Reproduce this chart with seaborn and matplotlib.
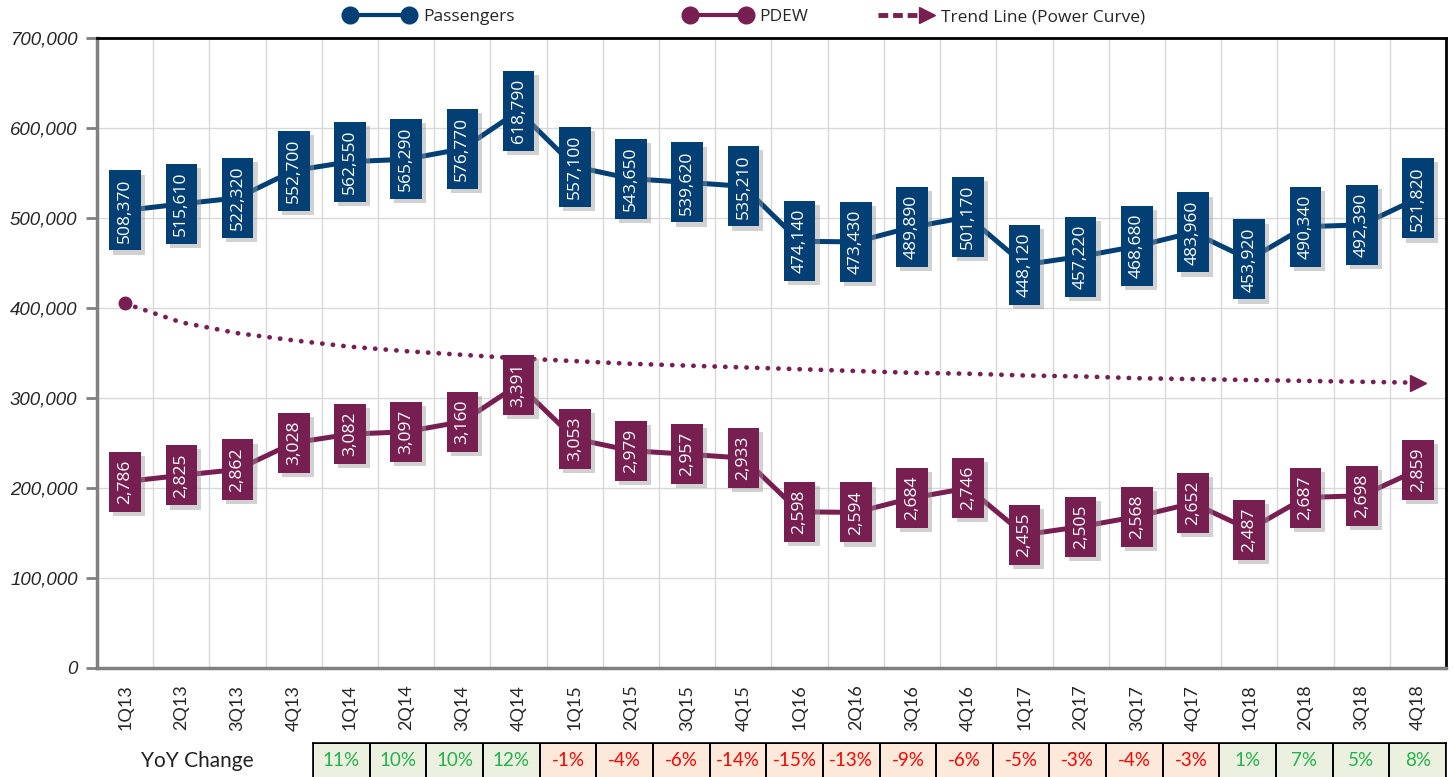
import numpy as np
import pandas as pd
import matplotlib
matplotlib.use("Agg")
import matplotlib.pyplot as plt
import matplotlib.patheffects as pe
from matplotlib.lines import Line2D
from matplotlib.legend_handler import HandlerLine2D
from matplotlib.colors import ListedColormap
import seaborn as sns

# ----------------------------
# datos
# ----------------------------
trimestres = ['1Q13', '2Q13', '3Q13', '4Q13', '1Q14', '2Q14', '3Q14', '4Q14',
              '1Q15', '2Q15', '3Q15', '4Q15', '1Q16', '2Q16', '3Q16', '4Q16',
              '1Q17', '2Q17', '3Q17', '4Q17', '1Q18', '2Q18', '3Q18', '4Q18']

pasajeros = [508370, 515610, 522320, 552700, 562550, 565290, 576770, 618790,
             557100, 543650, 539620, 535210, 474140, 473430, 489890, 501170,
             448120, 457220, 468680, 483960, 453920, 490340, 492390, 521820]

pdew = [2786, 2825, 2862, 3028, 3082, 3097, 3160, 3391,
        3053, 2979, 2957, 2933, 2598, 2594, 2684, 2746,
        2455, 2505, 2568, 2652, 2487, 2687, 2698, 2859]

# linea de tendencia (curva potencial), eje principal
tendencia = [405000, 384000, 372000, 364000, 357000, 352000, 348000, 344000,
             341000, 338000, 336000, 334000, 332000, 330000, 328000, 327000,
             325000, 324000, 322000, 321000, 320000, 319000, 318000, 317000]

trimestres_yoy = trimestres[4:]
yoy = [11, 10, 10, 12, -1, -4, -6, -14, -15, -13, -9, -6, -5, -3, -4, -3, 1, 7, 5, 8]

# ----------------------------
# estilo
# ----------------------------
AZUL = '#023F74'
MORADO = '#781F52'
GRIS = '#808080'
GRILLA = '#D9D9D9'

sns.set_style("white")
plt.rcParams['font.family'] = ['Open Sans', 'DejaVu Sans']

df = pd.DataFrame({'pos': np.arange(len(trimestres)), 'Trimestre': trimestres,
                   'Pasajeros': pasajeros, 'PDEW': pdew, 'Tendencia': tendencia})

fig = plt.figure(figsize=(14.54, 7.77), dpi=100)
ax = fig.add_axes([97 / 1454, 1 - 668 / 777, 1349 / 1454, 630 / 777])
ax2 = ax.twinx()

# lineas
sns.lineplot(data=df, x='pos', y='Pasajeros', ax=ax, color=AZUL, lw=3.6, zorder=3)
ax.plot(df['pos'], df['Tendencia'], color=MORADO, lw=3.4,
        linestyle=(0, (0.05, 2.2)), dash_capstyle='round', zorder=2)
ax.plot(df['pos'].iloc[[0]], df['Tendencia'].iloc[[0]], 'o', color=MORADO, ms=9, zorder=2)
ax.plot(df['pos'].iloc[[-1]], df['Tendencia'].iloc[[-1]], '>', color=MORADO, ms=11, zorder=2)
sns.lineplot(data=df, x='pos', y='PDEW', ax=ax2, color=MORADO, lw=3.6, zorder=3)

sombra = [pe.SimplePatchShadow(offset=(3, -3), shadow_rgbFace='#9A9A9A', alpha=0.45), pe.Normal()]


def etiqueta(eje, x, y, texto, color):
    t = eje.text(x, y, texto, rotation=90, ha='center', va='center', color='white',
                 fontsize=12.5, zorder=5,
                 bbox=dict(boxstyle='square,pad=0.45', fc=color, ec='none'))
    t.get_bbox_patch().set_path_effects(sombra)


for i, v in enumerate(pasajeros):
    etiqueta(ax, i, v, f'{v:,}', AZUL)
for i, v in enumerate(pdew):
    etiqueta(ax2, i, v, f'{v:,}', MORADO)

# ejes
ax.set_xlim(-0.5, len(trimestres) - 0.5)
ax.set_ylim(0, 700000)
ax2.set_ylim(1624, 5552)
ax.set_yticks(np.arange(0, 700001, 100000))
ax.set_yticklabels([f'{v:,}' for v in range(0, 700001, 100000)],
                   fontstyle='italic', fontsize=13.5, family=['Liberation Sans'])
ax.set_xticks(df['pos'])
ax.set_xticklabels(trimestres, rotation=90, fontsize=13, family=['Lato', 'DejaVu Sans'])
ax.set_xticks(np.arange(-0.5, len(trimestres)), minor=True)
ax.tick_params(axis='x', which='major', length=0, pad=12)
ax.tick_params(axis='x', which='minor', length=6, width=2, color=GRIS)
ax.tick_params(axis='y', length=8, width=2, color=GRIS, pad=6)
ax.grid(axis='y', which='major', color=GRILLA, lw=1)
ax.grid(axis='x', which='minor', color=GRILLA, lw=1)
ax.set_axisbelow(True)
ax.set_xlabel('')
ax.set_ylabel('')
ax2.set_ylabel('')
ax2.set_yticks([])
for s in ['left', 'bottom']:
    ax.spines[s].set_color(GRIS)
    ax.spines[s].set_linewidth(2.5)
for s in ['top', 'right']:
    ax.spines[s].set_color('black')
    ax.spines[s].set_linewidth(2)
for s in ax2.spines.values():
    s.set_visible(False)


# leyenda
class FlechaHandler(HandlerLine2D):
    def create_artists(self, *args, **kwargs):
        arts = super().create_artists(*args, **kwargs)
        arts[0].set_markevery([1])
        return arts


h_pas = Line2D([], [], color=AZUL, lw=3, marker='o', ms=12)
h_pdew = Line2D([], [], color=MORADO, lw=3, marker='o', ms=12)
h_tend = Line2D([], [], color=MORADO, lw=3.5, ls=(0, (2, 1)), marker='>', ms=12)
for h, lab, x0, hl in [(h_pas, 'Passengers', 345 / 1454, 4.0),
                       (h_pdew, 'PDEW', 685 / 1454, 3.8),
                       (h_tend, 'Trend Line (Power Curve)', 873 / 1454, 3.4)]:
    fig.legend(handles=[h], labels=[lab], loc='center left', bbox_to_anchor=(x0, 1 - 17 / 777),
               frameon=False, fontsize=12.5, handlelength=hl, numpoints=2,
               borderpad=0, borderaxespad=0, handletextpad=0.5,
               handler_map={h_tend: FlechaHandler(numpoints=2)})

# tabla YoY
axt = fig.add_axes([313 / 1454, -0.01, 1133 / 1454, 34 / 777 + 0.01])
signo = pd.DataFrame([[1 if v > 0 else 0 for v in yoy]], columns=trimestres_yoy)
sns.heatmap(signo, ax=axt, cmap=ListedColormap(['#FDE9D9', '#EBF1DE']), vmin=0, vmax=1,
            cbar=False, linewidths=1.2, linecolor='black', xticklabels=False, yticklabels=False)
for i, v in enumerate(yoy):
    axt.text(i + 0.5, 0.42, f'{v}%', ha='center', va='center',
             fontsize=13.5, family=['Lato', 'DejaVu Sans'],
             color='#22B14C' if v > 0 else '#FF0000')
for s in axt.spines.values():
    s.set_visible(True)
    s.set_color('black')
    s.set_linewidth(1.2)
fig.text(197 / 1454, 1 - 761 / 777, 'YoY Change', ha='center', va='center',
         fontsize=15, family=['Lato', 'DejaVu Sans'], color='#222222')

fig.savefig('out.png', dpi=100)
